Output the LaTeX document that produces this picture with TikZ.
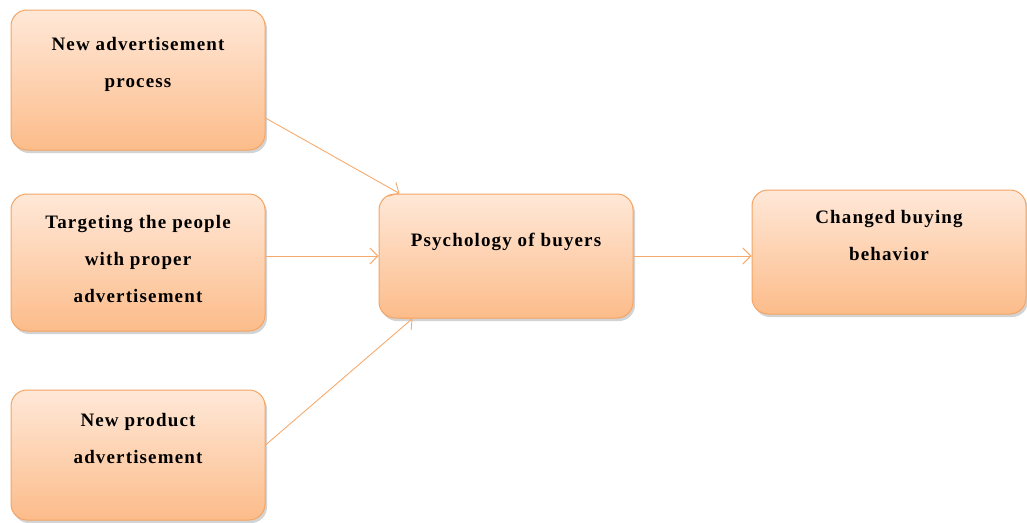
\documentclass[tikz,border=0pt]{standalone}
\usepackage{fontspec}
\setmainfont{Liberation Serif}
\newfontfamily\boxfont[LetterSpace=6]{Liberation Serif}
\usepackage{tikz}
\usetikzlibrary{arrows.meta, positioning, calc, shadows}
\definecolor{boxline}{HTML}{F5A462}
\definecolor{boxtop}{HTML}{FFE8D8}
\definecolor{boxbottom}{HTML}{FCBC8A}
\definecolor{arrowline}{HTML}{F6AA6E}

\begin{document}
\begin{tikzpicture}[x=1pt, y=-1pt,
        box/.style={draw=boxline, line width=1pt,
        top color=boxtop, bottom color=boxbottom,
        rounded corners=16pt,
        minimum width=254pt,
        drop shadow={shadow xshift=2pt, shadow yshift=-3pt, opacity=0.35}},
        lbl/.style={anchor=north, align=center, inner sep=0pt,
        font=\boxfont\fontsize{19}{37}\selectfont\bfseries},
        >={Straight Barb[length=8pt, width=16pt]}]
        \useasboundingbox (0,0) rectangle (1027,522);
        \node[box, minimum height=140pt] (adv) at (138,80) {};
        \node[box, minimum height=137pt] (tgt) at (138,262.5) {};
        \node[box, minimum height=130pt] (prd) at (138,455) {};
        \node[box, minimum height=124pt] (psy) at (506,256) {};
        \node[box, minimum height=124pt, minimum width=274pt] (chg) at (889,252) {};
        \node[lbl, below=28pt of adv.north] (advt) {New advertisement\\process};
        \node[lbl, below=22pt of tgt.north] (tgtt) {Targeting the people\\with proper\\advertisement};
        \node[lbl, below=24pt of prd.north] (prdt) {New product\\advertisement};
        \node[lbl, below=39pt of psy.north] (psyt) {Psychology of buyers};
        \node[lbl, below=21pt of chg.north] (chgt) {Changed buying\\behavior};
        \begin{scope}[draw=arrowline, line width=0.9pt]
            \draw[->] ($(adv.east)+(0,38)$) -- ($(psy.north west)+(21,0)$);
            \draw[->] (tgt.east |- psy) -- (psy.west);
            \draw[->] ($(prd.east)+(0,-10)$) -- ($(psy.south west)+(34,0)$);
            \draw[->] (psy.east) -- (chg.west |- psy);
        \end{scope}
    \end{tikzpicture}
\end{document}
